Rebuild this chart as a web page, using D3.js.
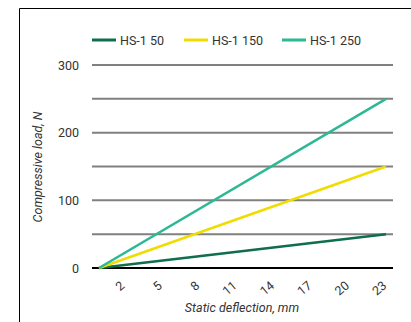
<!DOCTYPE html>
<html>
<head>
<meta charset="utf-8">
<script src="https://cdn.jsdelivr.net/npm/d3@7"></script>
<style>
  body { margin: 0; background: #fff; }
  text { font-family: Roboto, "Noto Sans", sans-serif; }
</style>
</head>
<body>
<script>
// data
var series = ["HS-1 50", "HS-1 150", "HS-1 250"];
var colors = ["#0e6e4e", "#f0dc00", "#2db894"];
var xStart = [0, 0, 0];          // deflection at start, mm
var xEnd = [23, 23, 23];         // deflection at end, mm
var yStart = [0, 0, 0];
var yEnd = [50, 150, 250];       // load at end, N
var xTicks = [2, 5, 8, 11, 14, 17, 20, 23];
var yTicks = [0, 50, 100, 150, 200, 250, 300];
var yLabels = [0, 100, 200, 300];

var W = 411, H = 322;

var svg = d3.select("body") //create Svg element
  .append("svg")
  .attr("width", W)
  .attr("height", H);

// frame around the chart
svg.append("path")
  .attr("d", "M19.5," + (H + 2) + "V8.5H" + (W + 2))
  .attr("fill", "none")
  .attr("stroke", "#000")
  .attr("stroke-width", 1);

var xscale = d3.scaleLinear()
  .domain([0, 23])
  .range([99, 386]);

var yscale = d3.scaleLinear()
  .domain([0, 300])
  .range([268, 65]);

// gridlines
svg.selectAll(".grid")
  .data(yTicks)
  .enter()
  .append("line")
  .attr("x1", 92)
  .attr("x2", 393)
  .attr("y1", d => yscale(d))
  .attr("y2", d => yscale(d))
  .attr("stroke", d => d == 0 ? "#000" : "#808080")
  .attr("stroke-width", 2);

// y labels
var yAxis = svg.append("g")
  .attr("transform", "translate(92,0)")
  .call(d3.axisLeft(yscale).tickValues(yLabels).tickSize(0).tickPadding(13));
yAxis.select(".domain").remove();
yAxis.selectAll("text")
  .attr("fill", "#333")
  .style("font-size", "12.5px");

// x labels, rotated
var xAxis = svg.append("g")
  .attr("transform", "translate(0,268)")
  .call(d3.axisBottom(xscale).tickValues(xTicks).tickSize(0).tickPadding(0));
xAxis.select(".domain").remove();
xAxis.selectAll("text")
  .attr("fill", "#333")
  .style("font-size", "12.5px")
  .style("text-anchor", "end")
  .attr("dy", 0)
  .attr("transform", "translate(1,19) rotate(-40)");

// lines
var line = d3.line()
  .x(d => xscale(d[0]))
  .y(d => yscale(d[1]));

series.forEach(function (s, i) {
  svg.append("path")
    .datum([[xStart[i], yStart[i]], [xEnd[i], yEnd[i]]])
    .attr("d", line)
    .attr("fill", "none")
    .attr("stroke", colors[i])
    .attr("stroke-width", 2.5);
});

// legend
var legX = [92, 184, 282];
var leg = svg.selectAll(".leg")
  .data(series)
  .enter()
  .append("g")
  .attr("transform", (d, i) => "translate(" + legX[i] + ",40)");
leg.append("line")
  .attr("x1", 0).attr("x2", 24)
  .attr("stroke", (d, i) => colors[i])
  .attr("stroke-width", 3);
leg.append("text")
  .text(d => d)
  .attr("x", 28)
  .attr("y", 4.5)
  .attr("fill", "#333")
  .style("font-size", "12.5px");

// axis titles
svg.append("text")
  .text("Compressive load, N")
  .attr("transform", "translate(42,167) rotate(-90)")
  .style("text-anchor", "middle")
  .style("font-style", "italic")
  .style("font-size", "12.5px")
  .attr("fill", "#333");

svg.append("text")
  .text("Static deflection, mm")
  .attr("x", 242)
  .attr("y", 312)
  .style("text-anchor", "middle")
  .style("font-style", "italic")
  .style("font-size", "12.5px")
  .attr("fill", "#333");
</script>
</body>
</html>
